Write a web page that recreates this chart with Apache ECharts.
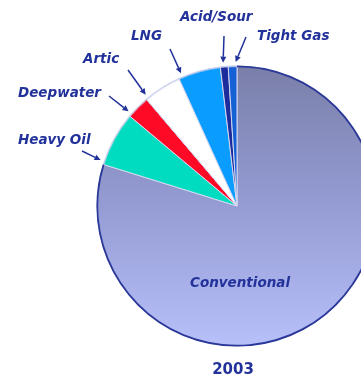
<!DOCTYPE html>
<html>
<head>
<meta charset="utf-8">
<script src="https://cdn.jsdelivr.net/npm/echarts@6/dist/echarts.min.js"></script>
<style>
  html, body { margin: 0; padding: 0; background: #ffffff; }
  #chart { width: 361px; height: 379px; }
</style>
</head>
<body>
<div id="chart"></div>
<script>
// Share of supply by resource type, 2003
const categories = ['Conventional', 'Heavy Oil', 'Deepwater', 'Artic', 'LNG', 'Acid/Sour', 'Tight Gas'];
const shares = [79.8, 6.3, 2.7, 4.4, 4.9, 0.9, 1.0];
const yearLabel = '2003';

// Presentation settings
const CX = 237, CY = 206, R = 140;
const NAVY = '#22329a';
const FONT = '"DejaVu Sans", Verdana, sans-serif';
const sliceColors = [
  { type: 'linear', x: 0, y: 0, x2: 0, y2: 1,
    colorStops: [{ offset: 0, color: '#7a7fa8' }, { offset: 0.5, color: '#959cd4' }, { offset: 1, color: '#b8c0fa' }] },
  '#00dcc0', '#ff0a26', '#ffffff', '#0a9cff', '#1c2c9c', '#1660d6'
];
// Where each outside label sits (left edge, vertical centre) and where its arrow starts
const labelAt = {
  'Heavy Oil': [18, 140], 'Deepwater': [18, 93], 'Artic': [83, 59],
  'LNG': [131, 36], 'Acid/Sour': [180, 17], 'Tight Gas': [257, 36]
};
const arrowFrom = {
  'Heavy Oil': [82, 151], 'Deepwater': [109, 96], 'Artic': [128, 70],
  'LNG': [170, 49], 'Acid/Sour': [224, 36], 'Tight Gas': [246, 37]
};
// Position of each arrow tip within its slice (0 = clockwise start, 1 = end)
const arrowFrac = {
  'Heavy Oil': 0.06, 'Deepwater': 0.12, 'Artic': 0.06,
  'LNG': 0.09, 'Acid/Sour': 0.4, 'Tight Gas': 0.85
};

const total = shares.reduce((a, b) => a + b, 0);

// Arrow graphics: tip lies just outside the rim at the slice's angle
const graphics = [];
let acc = 0;
categories.forEach((name, i) => {
  const start = acc, end = acc + shares[i];
  acc = end;
  if (!arrowFrom[name]) return;
  const f = start + (end - start) * arrowFrac[name];
  const ang = f / total * 2 * Math.PI; // clockwise from 12 o'clock
  const tx = CX + (R + 4) * Math.sin(ang);
  const ty = CY - (R + 4) * Math.cos(ang);
  const [sx, sy] = arrowFrom[name];
  const dx = tx - sx, dy = ty - sy, len = Math.hypot(dx, dy);
  const ux = dx / len, uy = dy / len;
  const hl = 6, hw = 3;
  const bx = tx - ux * hl, by = ty - uy * hl;
  graphics.push({
    type: 'line', silent: true,
    shape: { x1: sx, y1: sy, x2: bx, y2: by },
    style: { stroke: NAVY, lineWidth: 1.5 }
  });
  graphics.push({
    type: 'polygon', silent: true,
    shape: { points: [[tx, ty], [bx - uy * hw, by + ux * hw], [bx + uy * hw, by - ux * hw]] },
    style: { fill: NAVY }
  });
});

const chart = echarts.init(document.getElementById('chart'), null, { renderer: 'canvas' });

const pieData = categories.map((name, i) => ({
  name, value: shares[i],
  itemStyle: { color: sliceColors[i] },
  label: i === 0
    ? { position: 'inside', show: true }
    : { position: 'outside', show: true }
}));

chart.setOption({
  animation: false,
  title: {
    text: yearLabel, left: 228, top: 358, textAlign: 'center',
    textStyle: { fontFamily: FONT, fontWeight: 'bold', fontSize: 15, color: NAVY }
  },
  graphic: graphics,
  series: [
    {
      type: 'pie',
      center: [CX, CY],
      radius: R,
      startAngle: 90,
      clockwise: true,
      silent: true,
      data: pieData,
      itemStyle: { borderColor: '#d4d8f0', borderWidth: 1 },
      label: {
        color: NAVY, fontFamily: FONT, fontStyle: 'italic', fontWeight: 'bold', fontSize: 13.5,
        overflow: 'none', width: 120
      },
      labelLine: { show: false },
      labelLayout: function (p) {
        const name = categories[p.dataIndex];
        if (p.dataIndex === 0) {
          return { x: 240, y: 283, align: 'center', verticalAlign: 'middle' };
        }
        const pos = labelAt[name];
        return { x: pos[0], y: pos[1], align: 'left', verticalAlign: 'middle' };
      }
    },
    {
      // Dark rim along the conventional slice
      type: 'pie',
      center: [CX, CY],
      radius: [R - 1.2, R + 0.6],
      startAngle: 90,
      clockwise: true,
      silent: true,
      label: { show: false },
      labelLine: { show: false },
      data: categories.map((name, i) => ({
        name, value: shares[i],
        itemStyle: { color: i === 0 ? '#2a3898' : 'rgba(200,205,235,0.6)' }
      }))
    }
  ]
});
</script>
</body>
</html>
